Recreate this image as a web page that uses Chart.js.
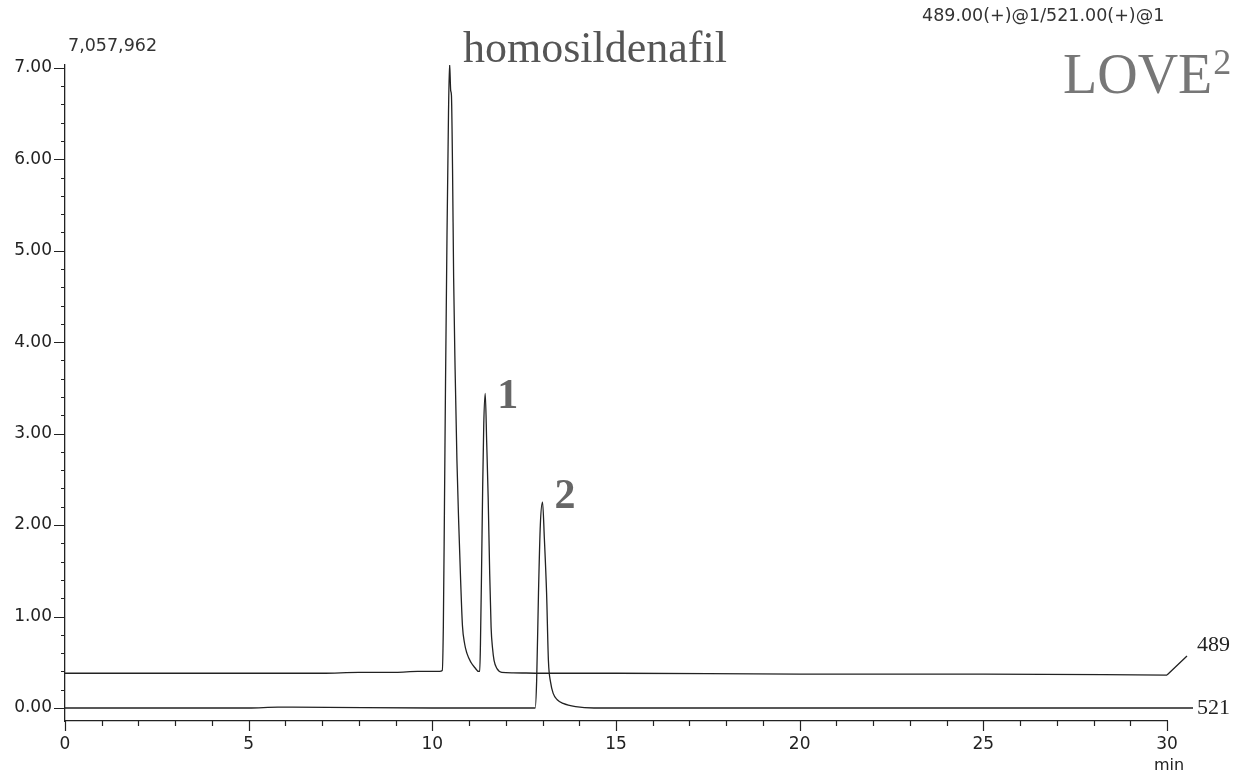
<!DOCTYPE html>
<html>
<head>
<meta charset="utf-8">
<script src="https://cdn.jsdelivr.net/npm/chart.js@4.4.0/dist/chart.umd.min.js"></script>
<style>
  html, body { margin: 0; padding: 0; background: #fff; }
  #wrap { width: 1245px; height: 780px; }
</style>
</head>
<body>
<div id="wrap"><canvas id="chart" width="1245" height="780"></canvas></div>
<script>
// Trace m/z 489 (offset baseline), time in min, intensity x10^6
const times489 = [0, 2, 4, 6, 7, 8, 9, 9.6, 10.0, 10.2, 10.27, 10.30, 10.33, 10.36, 10.40, 10.44, 10.47, 10.50, 10.52, 10.55, 10.58, 10.62, 10.67, 10.72, 10.77, 10.82, 10.88, 10.94, 11.05, 11.16, 11.26, 11.29, 11.31, 11.34, 11.37, 11.40, 11.44, 11.48, 11.52, 11.56, 11.60, 11.64, 11.68, 11.76, 11.89, 12.2, 13, 15, 20, 25, 30];
const values489 = [0.38, 0.38, 0.38, 0.38, 0.38, 0.39, 0.39, 0.40, 0.40, 0.40, 0.41, 0.9, 2.2, 3.6, 5.2, 6.5, 7.05, 6.75, 6.7, 5.9, 4.7, 3.7, 2.7, 2.0, 1.4, 0.9, 0.7, 0.6, 0.5, 0.44, 0.40, 0.40, 0.7, 1.5, 2.4, 3.1, 3.44, 2.9, 2.3, 1.5, 0.88, 0.65, 0.52, 0.43, 0.39, 0.385, 0.38, 0.38, 0.37, 0.37, 0.36];

// Trace m/z 521
const times521 = [0, 5, 5.8, 6.2, 10, 12, 12.80, 12.84, 12.89, 12.94, 13.0, 13.05, 13.11, 13.16, 13.22, 13.29, 13.4, 13.56, 13.9, 14.4, 20, 30];
const values521 = [0, 0, 0.01, 0.01, 0, 0, 0, 0.3, 1.26, 2.0, 2.25, 1.85, 1.26, 0.52, 0.28, 0.16, 0.09, 0.05, 0.015, 0.0, 0, 0];

const xTickStep = 1;      // minor ticks every minute, labels every 5
const yTickStep = 0.2;    // minor ticks every 0.2, labels every 1.00
const maxIntensity = "7,057,962";
const channelLabel = "489.00(+)@1/521.00(+)@1";

const SANS = "'DejaVu Sans', Verdana, sans-serif";
const SERIF = "'Liberation Serif', 'Times New Roman', serif";

const toPoints = (xs, ys) => xs.map((x, i) => ({ x: x, y: ys[i] }));
const isWhole = (v, n) => Math.abs(v / n - Math.round(v / n)) < 1e-6;

// Axis ticks (major/minor) drawn by hand
const tickPlugin = {
  id: "ticks",
  afterDraw(chart) {
    const ctx = chart.ctx;
    const xs = chart.scales.x, ys = chart.scales.y;
    ctx.save();
    ctx.strokeStyle = "#222";
    ctx.lineWidth = 1.2;
    ctx.beginPath();
    xs.ticks.forEach(t => {
      const px = Math.round(xs.getPixelForValue(t.value)) + 0.5;
      const len = isWhole(t.value, 5) ? 10 : 5;
      ctx.moveTo(px, xs.top);
      ctx.lineTo(px, xs.top + len);
    });
    ys.ticks.forEach(t => {
      const py = Math.round(ys.getPixelForValue(t.value)) + 0.5;
      const len = isWhole(t.value, 1) ? 11 : 4;
      ctx.moveTo(ys.right, py);
      ctx.lineTo(ys.right - len, py);
    });
    ctx.stroke();
    ctx.restore();
  }
};

// Labels, peak numbers and trace tags
const textPlugin = {
  id: "texts",
  afterDraw(chart) {
    const ctx = chart.ctx;
    const xs = chart.scales.x, ys = chart.scales.y;
    ctx.save();
    ctx.textBaseline = "alphabetic";
    ctx.textAlign = "left";

    ctx.fillStyle = "#333";
    ctx.font = "17.5px " + SANS;
    ctx.fillText(maxIntensity, 68, 51);
    ctx.fillText(channelLabel, 922, 21);

    ctx.fillStyle = "#555";
    ctx.font = "44px " + SERIF;
    ctx.fillText("homosildenafil", 463, 62);

    ctx.fillStyle = "#777";
    ctx.font = "56px " + SERIF;
    ctx.fillText("LOVE", 1063, 93);
    const w = ctx.measureText("LOVE").width;
    ctx.font = "36px " + SERIF;
    ctx.fillText("2", 1063 + w + 1, 74);

    // peak numbers anchored to the peak apexes
    const apex = (xsArr, vsArr, from, to) => {
      let best = -1, bi = 0;
      xsArr.forEach((t, i) => { if (t >= from && t <= to && vsArr[i] > best) { best = vsArr[i]; bi = i; } });
      return { x: xs.getPixelForValue(xsArr[bi]), y: ys.getPixelForValue(vsArr[bi]) };
    };
    const p1 = apex(times489, values489, 11, 12);
    const p2 = apex(times521, values521, 12, 14);
    ctx.fillStyle = "#666";
    ctx.font = "bold 42px " + SERIF;
    ctx.fillText("1", p1.x + 12, p1.y + 15);
    ctx.fillText("2", p2.x + 12, p2.y + 6);

    // trace tags at the right end
    const xEnd = xs.getPixelForValue(30);
    const y489 = ys.getPixelForValue(values489[values489.length - 1]);
    const y521 = ys.getPixelForValue(values521[values521.length - 1]);
    ctx.strokeStyle = "#222";
    ctx.lineWidth = 1.3;
    ctx.beginPath();
    ctx.moveTo(xEnd, y489);
    ctx.lineTo(xEnd + 20, y489 - 19);
    ctx.moveTo(xEnd, y521);
    ctx.lineTo(xEnd + 26, y521);
    ctx.stroke();
    ctx.fillStyle = "#222";
    ctx.font = "22px " + SERIF;
    ctx.textBaseline = "middle";
    ctx.fillText("489", xEnd + 30, y489 - 30);
    ctx.fillText("521", xEnd + 30, y521);

    ctx.font = "16px " + SANS;
    ctx.textAlign = "center";
    ctx.fillText("min", xEnd + 2, 766);
    ctx.restore();
  }
};

new Chart(document.getElementById("chart"), {
  type: "scatter",
  data: {
    datasets: [
      {
        label: "489",
        data: toPoints(times489, values489),
        showLine: true,
        borderColor: "#222",
        borderWidth: 1.3,
        pointRadius: 0,
        cubicInterpolationMode: "monotone",
      },
      {
        label: "521",
        data: toPoints(times521, values521),
        showLine: true,
        borderColor: "#222",
        borderWidth: 1.3,
        pointRadius: 0,
        cubicInterpolationMode: "monotone",
      },
    ],
  },
  options: {
    responsive: false,
    animation: false,
    layout: { padding: { top: 65, right: 78, left: 0, bottom: 0 } },
    plugins: { legend: { display: false }, tooltip: { enabled: false } },
    scales: {
      x: {
        type: "linear",
        min: 0,
        max: 30,
        afterFit: (scale) => { scale.height = 59; },
        grid: { drawOnChartArea: false, drawTicks: true, tickLength: 10, color: "rgba(0,0,0,0)" },
        border: { display: true, color: "#222", width: 1.3 },
        ticks: {
          stepSize: xTickStep,
          autoSkip: false,
          maxRotation: 0,
          padding: 3,
          color: "#222",
          font: { family: SANS, size: 17 },
          callback: (v) => (isWhole(v, 5) ? String(Math.round(v)) : ""),
        },
      },
      y: {
        type: "linear",
        min: -0.142,
        max: 7.03,
        afterFit: (scale) => { scale.width = 65; },
        grid: { drawOnChartArea: false, drawTicks: true, tickLength: 11, color: "rgba(0,0,0,0)" },
        border: { display: true, color: "#222", width: 1.3 },
        ticks: {
          stepSize: yTickStep,
          includeBounds: false,
          autoSkip: false,
          padding: 2,
          color: "#222",
          font: { family: SANS, size: 17 },
          callback: (v) => (isWhole(v, 1) ? v.toFixed(2) : ""),
        },
      },
    },
  },
  plugins: [tickPlugin, textPlugin],
});
</script>
</body>
</html>
